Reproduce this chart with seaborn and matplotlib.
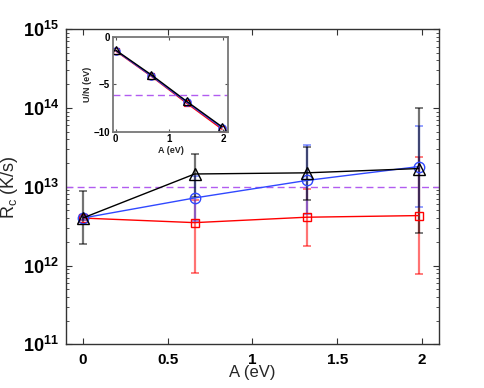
import numpy as np
import pandas as pd
import matplotlib
matplotlib.use("Agg")
import matplotlib.pyplot as plt
import seaborn as sns
from matplotlib.ticker import LogLocator, FixedLocator, NullFormatter

sns.set_style("ticks")
plt.rcParams['font.family'] = ['Liberation Sans', 'DejaVu Sans']
plt.rcParams['mathtext.fontset'] = 'custom'
plt.rcParams['mathtext.rm'] = 'Liberation Sans'
plt.rcParams['mathtext.bf'] = 'Liberation Sans:bold'

# ---- data ----
A = [0.0, 0.66, 1.32, 1.98]

red_rc = [4.0e12, 3.5e12, 4.1e12, 4.3e12]
red_lo = [3.8e12, 8.1e11, 1.75e12, 7.9e11]
red_hi = [4.2e12, 6.8e12, 9.4e12, 2.35e13]

blue_rc = [4.0e12, 7.2e12, 1.2e13, 1.8e13]
blue_lo = [3.8e12, 3.7e12, 4.5e12, 5.5e12]
blue_hi = [4.2e12, 1.35e13, 3.4e13, 5.9e13]

black_rc = [4.0e12, 1.45e13, 1.5e13, 1.7e13]
black_lo = [1.9e12, 7.5e12, 6.8e12, 2.6e12]
black_hi = [8.7e12, 2.6e13, 3.2e13, 9.9e13]

threshold_rc = 1.0e13

inset_red = [-1.5, -4.15, -7.0, -9.75]
inset_blue = [-1.45, -4.1, -6.9, -9.6]
inset_black = [-1.4, -4.0, -6.8, -9.5]
inset_threshold = -6.1

main_yticks = [1e11, 1e12, 1e13, 1e14, 1e15]
main_xticks = [0, 0.5, 1, 1.5, 2]
main_xticklabels = ["0", "0.5", "1", "1.5", "2"]

series = [
    ("red", red_rc, red_lo, red_hi, "s", 6.0, inset_red),
    ("#3048ff", blue_rc, blue_lo, blue_hi, "o", 7.5, inset_blue),
    ("black", black_rc, black_lo, black_hi, "^", 8.0, inset_black),
]

fig = plt.figure(figsize=(4.85, 3.88), dpi=100)
ax = fig.add_axes([0.1355, 0.1126, 0.905 - 0.1355, 0.925 - 0.1126])

for color, rc, lo, hi, mk, ms, _ in series:
    df = pd.DataFrame({"A": A, "Rc": rc})
    rc_a = np.array(rc)
    yerr = np.vstack([rc_a - np.array(lo), np.array(hi) - rc_a])
    ax.errorbar(A, rc, yerr=yerr, fmt="none", ecolor=color, alpha=0.55,
                elinewidth=1.6, capsize=3, capthick=1.3, zorder=2)
    sns.lineplot(data=df, x="A", y="Rc", ax=ax, color=color, lw=1.0,
                 marker=mk, markersize=ms, markerfacecolor="none",
                 markeredgecolor=color, markeredgewidth=1.0, zorder=3)

ax.axhline(threshold_rc, color="#b25cf0", ls=(0, (5, 3)), lw=1.0, zorder=1)

ax.set_yscale("log")
ax.set_ylim(1e11, 1e15)
ax.set_xlim(-0.1, 2.1)
ax.yaxis.set_major_locator(FixedLocator(main_yticks))
ax.yaxis.set_minor_locator(LogLocator(base=10, subs=np.arange(2, 10), numticks=20))
ax.yaxis.set_minor_formatter(NullFormatter())
ax.set_yticks(main_yticks)
ax.set_yticklabels([r"$\mathbf{10^{%d}}$" % int(np.log10(v)) for v in main_yticks])
ax.set_xticks(main_xticks)
ax.set_xticklabels(main_xticklabels)
for lab in ax.get_xticklabels():
    lab.set_fontweight("bold")
ax.tick_params(axis="both", which="both", direction="in", top=True, right=True,
               colors="#333333", labelcolor="black")
ax.tick_params(axis="x", which="major", labelsize=11, length=4, pad=6)
ax.tick_params(axis="y", which="major", labelsize=13, length=4, pad=5)
ax.tick_params(axis="y", which="minor", length=2)
for sp in ax.spines.values():
    sp.set_color("#333333")
    sp.set_linewidth(1.0)
ax.set_xlabel("A (eV)", fontsize=12, labelpad=-1)
ax.set_ylabel(r"R$_\mathrm{c}$ (K/s)", fontsize=13, labelpad=2)

# ---- inset ----
ins = fig.add_axes([0.232, 0.661, 0.471 - 0.232, 0.905 - 0.661])
for color, _, _, _, mk, ms, ivals in series:
    dfi = pd.DataFrame({"A": A, "U": ivals})
    sns.lineplot(data=dfi, x="A", y="U", ax=ins, color=color, lw=1.0,
                 marker=mk, markersize=ms * 0.7, markerfacecolor="none",
                 markeredgecolor=color, markeredgewidth=0.9)
ins.axhline(inset_threshold, color="#b25cf0", ls=(0, (5, 3)), lw=1.0)
ins.set_xlim(-0.06, 2.1)
ins.set_ylim(-10, 0)
ins.set_xticks([0, 1, 2])
ins.set_yticks([0, -5, -10])
ins.set_xticklabels(["0", "1", "2"])
ins.set_yticklabels(["0", "\u22125", "\u221210"])
for lab in ins.get_xticklabels() + ins.get_yticklabels():
    lab.set_fontweight("bold")
ins.tick_params(axis="both", direction="in", top=True, right=True,
                labelsize=7, length=2.5, pad=2, colors="#555555", labelcolor="black")
for sp in ins.spines.values():
    sp.set_color("#777777")
    sp.set_linewidth(1.3)
ins.set_xlabel("A (eV)", fontsize=6.5, fontweight="bold", labelpad=1)
ins.set_ylabel("U/N (eV)", fontsize=6.5, fontweight="bold", labelpad=1)

fig.savefig("out.png", dpi=100)
